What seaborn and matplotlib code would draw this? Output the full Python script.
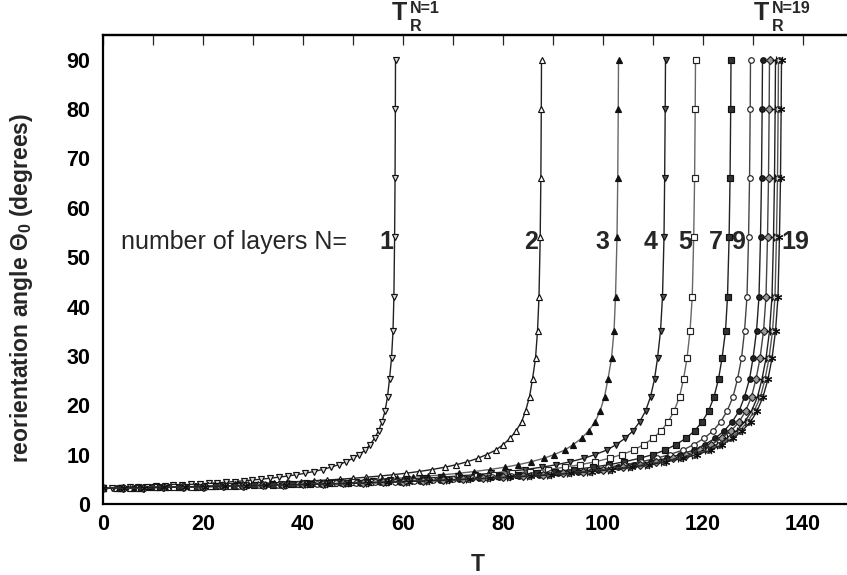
import matplotlib
matplotlib.use("Agg")
import matplotlib.pyplot as plt
import seaborn as sns
import pandas as pd
from matplotlib.ticker import MultipleLocator

# ---------------- data ----------------
layers = [1, 2, 3, 4, 5, 7, 9, 11, 13, 15, 17, 19]

# reorientation angle samples along every curve (degrees)
theta_deg = [3.20, 3.26, 3.32, 3.39, 3.46, 3.53, 3.61, 3.69, 3.78, 3.87, 3.96, 4.06,
             4.17, 4.29, 4.41, 4.55, 4.69, 4.85, 5.02, 5.21, 5.42, 5.66, 5.92, 6.22,
             6.57, 6.98, 7.46, 7.95, 8.54, 9.27, 10.0, 10.9, 12.0, 13.3, 14.8, 16.6,
             18.8, 21.7, 25.3, 29.5, 35.0, 42.0, 54.0, 66.0, 80.0, 90.0]

t_n1 = [0.0, 1.8, 3.5, 5.3, 7.0, 8.8, 10.5, 12.3, 14.0, 15.8, 17.6, 19.3, 21.1, 22.8, 24.6,
        26.3, 28.1, 29.8, 31.6, 33.3, 35.1, 36.9, 38.6, 40.4, 42.1, 43.9, 45.6, 47.1, 48.6,
        50.0, 51.2, 52.4, 53.4, 54.3, 55.1, 55.8, 56.4, 56.9, 57.3, 57.7, 58.0, 58.18,
        58.32, 58.41, 58.47, 58.5]
t_n2 = [0.0, 2.6, 5.3, 7.9, 10.5, 13.2, 15.8, 18.4, 21.0, 23.7, 26.3, 28.9, 31.6, 34.2, 36.8,
        39.5, 42.1, 44.7, 47.4, 50.0, 52.6, 55.3, 57.9, 60.5, 63.1, 65.8, 68.4, 70.6, 72.8,
        75.0, 76.7, 78.5, 80.0, 81.4, 82.6, 83.7, 84.5, 85.3, 85.9, 86.5, 86.9, 87.2, 87.44,
        87.57, 87.66, 87.7]
t_n3 = [0.0, 3.1, 6.2, 9.3, 12.4, 15.5, 18.6, 21.7, 24.7, 27.8, 30.9, 34.0, 37.1, 40.2, 43.3,
        46.4, 49.5, 52.6, 55.7, 58.8, 61.9, 65.0, 68.0, 71.1, 74.2, 77.3, 80.4, 83.0, 85.6,
        88.2, 90.2, 92.3, 94.0, 95.7, 97.1, 98.4, 99.4, 100.3, 101.0, 101.7, 102.2, 102.5,
        102.8, 102.95, 103.05, 103.1]
t_n4 = [0.0, 3.4, 6.8, 10.1, 13.5, 16.9, 20.3, 23.6, 27.0, 30.4, 33.8, 37.1, 40.5, 43.9, 47.3,
        50.6, 54.0, 57.4, 60.8, 64.1, 67.5, 70.9, 74.3, 77.6, 81.0, 84.4, 87.8, 90.6, 93.4,
        96.2, 98.4, 100.7, 102.6, 104.4, 106.0, 107.3, 108.5, 109.5, 110.3, 110.9, 111.5,
        111.9, 112.2, 112.33, 112.44, 112.5]
t_n5 = [0.0, 3.6, 7.1, 10.7, 14.2, 17.8, 21.3, 24.9, 28.4, 32.0, 35.6, 39.1, 42.7, 46.2, 49.8,
        53.3, 56.9, 60.4, 64.0, 67.5, 71.1, 74.7, 78.2, 81.8, 85.3, 88.9, 92.4, 95.4, 98.4,
        101.3, 103.7, 106.1, 108.1, 110.0, 111.6, 113.0, 114.2, 115.3, 116.1, 116.8, 117.4,
        117.85, 118.14, 118.32, 118.44, 118.5]
t_n7 = [0.0, 3.8, 7.5, 11.3, 15.1, 18.8, 22.6, 26.4, 30.1, 33.9, 37.7, 41.4, 45.2, 49.0, 52.8,
        56.5, 60.3, 64.1, 67.8, 71.6, 75.4, 79.1, 82.9, 86.7, 90.4, 94.2, 98.0, 101.1, 104.2,
        107.4, 109.9, 112.4, 114.5, 116.6, 118.3, 119.8, 121.1, 122.2, 123.1, 123.8, 124.5,
        124.9, 125.22, 125.41, 125.54, 125.6]
t_n9 = [0.0, 3.9, 7.8, 11.7, 15.5, 19.4, 23.3, 27.2, 31.1, 35.0, 38.9, 42.7, 46.6, 50.5, 54.4,
        58.3, 62.2, 66.0, 69.9, 73.8, 77.7, 81.6, 85.5, 89.4, 93.2, 97.1, 101.0, 104.2, 107.5,
        110.7, 113.3, 115.9, 118.1, 120.2, 122.0, 123.5, 124.8, 126.0, 126.9, 127.7, 128.3,
        128.8, 129.11, 129.31, 129.44, 129.5]
t_n11 = [0.0, 4.0, 7.9, 11.9, 15.8, 19.8, 23.7, 27.7, 31.7, 35.6, 39.6, 43.5, 47.5, 51.4, 55.4,
         59.4, 63.3, 67.3, 71.2, 75.2, 79.1, 83.1, 87.1, 91.0, 95.0, 98.9, 102.9, 106.2, 109.5,
         112.8, 115.4, 118.1, 120.3, 122.4, 124.2, 125.8, 127.2, 128.3, 129.3, 130.0, 130.7,
         131.2, 131.5, 131.7, 131.83, 131.9]
t_n13 = [0.0, 4.0, 8.0, 12.0, 16.0, 20.0, 24.0, 28.0, 32.0, 36.0, 40.0, 44.0, 48.0, 52.0, 56.0,
         60.0, 64.0, 68.0, 72.0, 76.0, 80.0, 84.0, 88.0, 92.0, 96.0, 100.0, 104.0, 107.3, 110.6,
         114.0, 116.6, 119.3, 121.6, 123.7, 125.6, 127.2, 128.5, 129.7, 130.6, 131.4, 132.1,
         132.6, 132.9, 133.1, 133.23, 133.3]
t_n15 = [0.0, 4.0, 8.1, 12.1, 16.1, 20.2, 24.2, 28.2, 32.3, 36.3, 40.4, 44.4, 48.4, 52.5, 56.5,
         60.5, 64.6, 68.6, 72.6, 76.7, 80.7, 84.7, 88.8, 92.8, 96.8, 100.9, 104.9, 108.3, 111.6,
         115.0, 117.7, 120.4, 122.7, 124.8, 126.7, 128.3, 129.7, 130.9, 131.8, 132.6, 133.3,
         133.8, 134.1, 134.3, 134.43, 134.5]
t_n17 = [0.0, 4.1, 8.1, 12.2, 16.2, 20.3, 24.3, 28.4, 32.4, 36.5, 40.5, 44.6, 48.6, 52.7, 56.7,
         60.8, 64.8, 68.9, 73.0, 77.0, 81.1, 85.1, 89.2, 93.2, 97.3, 101.3, 105.4, 108.8, 112.1,
         115.5, 118.2, 120.9, 123.2, 125.4, 127.3, 128.9, 130.2, 131.5, 132.4, 133.2, 133.9,
         134.4, 134.69, 134.9, 135.03, 135.1]
t_n19 = [0.0, 4.1, 8.1, 12.2, 16.3, 20.4, 24.4, 28.5, 32.6, 36.6, 40.7, 44.8, 48.9, 52.9, 57.0,
         61.1, 65.1, 69.2, 73.3, 77.3, 81.4, 85.5, 89.6, 93.6, 97.7, 101.8, 105.8, 109.2, 112.6,
         116.0, 118.7, 121.5, 123.8, 125.9, 127.8, 129.5, 130.8, 132.0, 133.0, 133.8, 134.5,
         135.0, 135.29, 135.5, 135.63, 135.7]

curve_T = [t_n1, t_n2, t_n3, t_n4, t_n5, t_n7, t_n9, t_n11, t_n13, t_n15, t_n17, t_n19]

# curve labels in the plot
label_text = "number of layers N="
label_N = ["1", "2", "3", "4", "5", "7", "9", "19"]
label_T = [56.6, 85.6, 99.8, 109.5, 116.4, 122.5, 127.0, 138.4]
label_theta = 53.0

# T_R labels above the frame
tr_sup = ["N=1", "N=19"]
tr_T = [57.8, 130.2]

# ---------------- build table ----------------
rows = []
for n, ts in zip(layers, curve_T):
    for t, th in zip(ts, theta_deg):
        rows.append({"N": n, "T": t, "theta": th})
df = pd.DataFrame(rows)

# ---------------- style ----------------
sns.set_style("white")
plt.rcParams["font.family"] = ["Liberation Sans", "DejaVu Sans"]
plt.rcParams["mathtext.fontset"] = "custom"
plt.rcParams["mathtext.rm"] = "Liberation Sans"
plt.rcParams["mathtext.bf"] = "Liberation Sans:bold"
plt.rcParams["mathtext.it"] = "Liberation Sans:italic"

styles = {
    1:  dict(marker="v", mfc="#dddddd", mec="#111", ms=4.4, lc="#222"),
    2:  dict(marker="^", mfc="white", mec="#111", ms=4.4, lc="#222"),
    3:  dict(marker="^", mfc="#111", mec="#111", ms=4.4, lc="#666"),
    4:  dict(marker="v", mfc="#555", mec="#111", ms=4.4, lc="#222"),
    5:  dict(marker="s", mfc="white", mec="#222", ms=3.8, lc="#666"),
    7:  dict(marker="s", mfc="#333", mec="#111", ms=3.8, lc="#222"),
    9:  dict(marker="o", mfc="white", mec="#222", ms=4.0, lc="#444"),
    11: dict(marker="o", mfc="#222", mec="#111", ms=4.0, lc="#222"),
    13: dict(marker="D", mfc="#999", mec="#222", ms=4.0, lc="#444"),
    15: dict(marker="+", mfc="none", mec="#111", ms=5.2, lc="#222"),
    17: dict(marker="o", mfc="#cccccc", mec="#222", ms=4.0, lc="#555"),
    19: dict(marker=(6, 2, 0), mfc="none", mec="#111", ms=5.2, lc="#222"),
}

fig = plt.figure(figsize=(8.47, 5.75), dpi=100)
ax = fig.add_axes([103 / 847, 71 / 575, 744 / 847, 469 / 575])

for n in layers:
    sub = df[df["N"] == n]
    st = styles[n]
    sns.lineplot(data=sub, x="T", y="theta", ax=ax, estimator=None, sort=False,
                 color=st["lc"], linewidth=1.0, marker=st["marker"],
                 markersize=st["ms"], markerfacecolor=st["mfc"],
                 markeredgecolor=st["mec"], markeredgewidth=0.85, legend=False)

ax.set_xlim(0, 148.8)
ax.set_ylim(0, 95)

ax.xaxis.set_major_locator(MultipleLocator(20))
ax.xaxis.set_minor_locator(MultipleLocator(10))
ax.yaxis.set_major_locator(MultipleLocator(10))
ax.yaxis.set_minor_locator(MultipleLocator(5))
ax.tick_params(axis="both", which="major", direction="in", length=9, width=0.9,
               labelsize=15.5, colors="black")
ax.tick_params(axis="both", which="minor", direction="in", length=4.5, width=0.9)
ax.tick_params(axis="x", which="both", top=False, pad=7)
ax.tick_params(axis="y", which="both", right=False, pad=9)
for lab in ax.get_xticklabels() + ax.get_yticklabels():
    lab.set_fontweight("bold")

for side in ["left", "bottom", "top"]:
    ax.spines[side].set_linewidth(1.6)
    ax.spines[side].set_color("black")
ax.spines["right"].set_visible(False)

sec = ax.secondary_xaxis("top")
sec.xaxis.set_major_locator(MultipleLocator(10))
sec.tick_params(direction="in", length=7, width=0.9, labeltop=False)
sec.spines["top"].set_linewidth(1.6)

ax.set_xlabel("T", fontsize=16.5, fontweight="bold")
ax.xaxis.set_label_coords(0.504, -0.105)
ax.set_ylabel("reorientation angle Θ$_\\mathbf{0}$ (degrees)", fontsize=16.5,
              fontweight="bold")
ax.yaxis.set_label_coords(-0.091, 0.46)

ax.text(3.6, label_theta, label_text, fontsize=18, ha="left", va="center")
for s, t in zip(label_N, label_T):
    ax.text(t, label_theta, s, fontsize=18, fontweight="bold", ha="center", va="center")

# T_R^{N} labels: big T, subscript R, superscript N=..
for sup, t in zip(tr_sup, tr_T):
    ax.text(t, 98.0, "T", fontsize=18, fontweight="bold", ha="left",
            va="baseline", clip_on=False)
    ax.text(t + 3.5, 95.75, "R", fontsize=11.5, fontweight="bold", ha="left",
            va="baseline", clip_on=False)
    ax.text(t + 3.5, 99.45, sup, fontsize=11.5, fontweight="bold", ha="left",
            va="baseline", clip_on=False)

fig.savefig("out.png", dpi=100)
